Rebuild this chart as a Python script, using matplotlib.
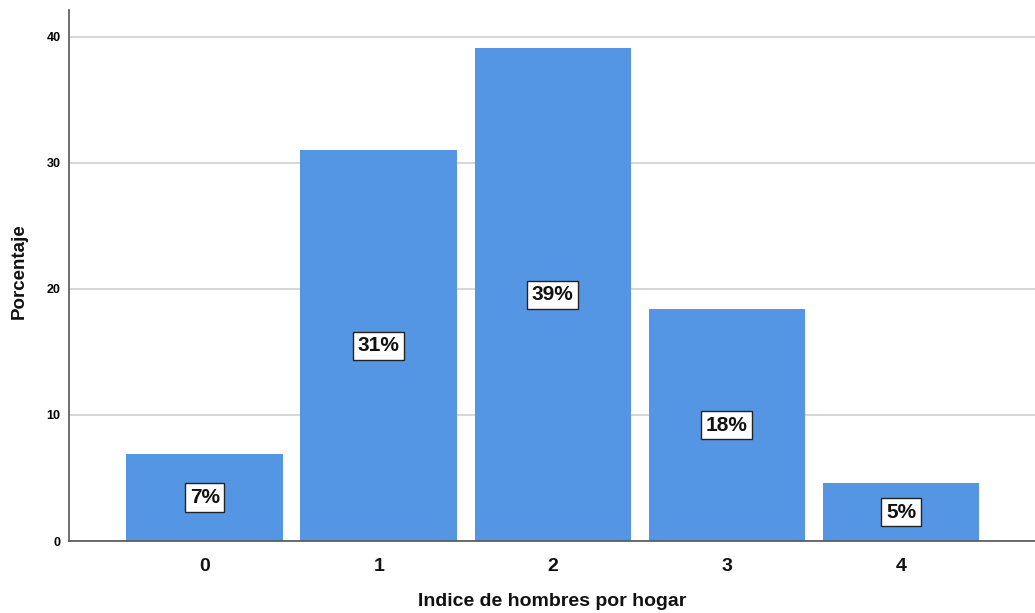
import matplotlib
matplotlib.use("Agg")
import matplotlib.pyplot as plt

categories = ["0", "1", "2", "3", "4"]
values = [6.9, 31.0, 39.1, 18.4, 4.6]
labels = ["7%", "31%", "39%", "18%", "5%"]
yticks = [0, 10, 20, 30, 40]

plt.rcParams['font.family'] = ['Liberation Sans', 'DejaVu Sans']

fig = plt.figure(figsize=(10.35, 6.13), dpi=100)
ax = fig.add_axes([69/1035, 1-541/613, 1-69/1035, (541-10)/613])

x = list(range(len(categories)))
ax.bar(x, values, width=0.9, color='#5596e4', zorder=2)
for xi, v, lab in zip(x, values, labels):
    ax.text(xi, v/2, lab, ha='center', va='center', fontsize=15, fontweight='bold',
            color='#111111',
            bbox=dict(boxstyle='square,pad=0.22', facecolor='white', edgecolor='#222222', linewidth=1),
            zorder=3)

ax.set_xlim(-0.78, 4.77)
ax.set_ylim(0, 42.14)
ax.set_yticks(yticks)
ax.set_yticklabels([str(t) for t in yticks], fontsize=9, fontweight='bold')
ax.set_xticks(x)
ax.set_xticklabels(categories, fontsize=14, fontweight='bold', color='#111111')
ax.tick_params(axis='both', length=0)
ax.tick_params(axis='x', pad=12)
ax.tick_params(axis='y', pad=6)
ax.yaxis.grid(True, color='#d0d0d0', linewidth=1.2, zorder=0)
ax.set_axisbelow(True)
for s in ['top', 'right']:
    ax.spines[s].set_visible(False)
ax.spines['left'].set_color('#555555')
ax.spines['bottom'].set_color('#555555')
ax.spines['left'].set_linewidth(1.2)
ax.spines['bottom'].set_linewidth(1.2)

ax.set_xlabel('Indice de hombres por hogar', fontsize=14, fontweight='bold', color='#111111')
ax.set_ylabel('Porcentaje', fontsize=13.5, fontweight='bold', color='#111111')
ax.xaxis.set_label_coords((552 - 69) / 966, -(601 - 541) / 531, transform=ax.transAxes)
ax.yaxis.set_label_coords(-(69 - 19) / 966, (541 - 271) / 531, transform=ax.transAxes)
ax.xaxis.label.set_va('center')
ax.yaxis.label.set_va('center')

fig.savefig('out.png', dpi=100)
